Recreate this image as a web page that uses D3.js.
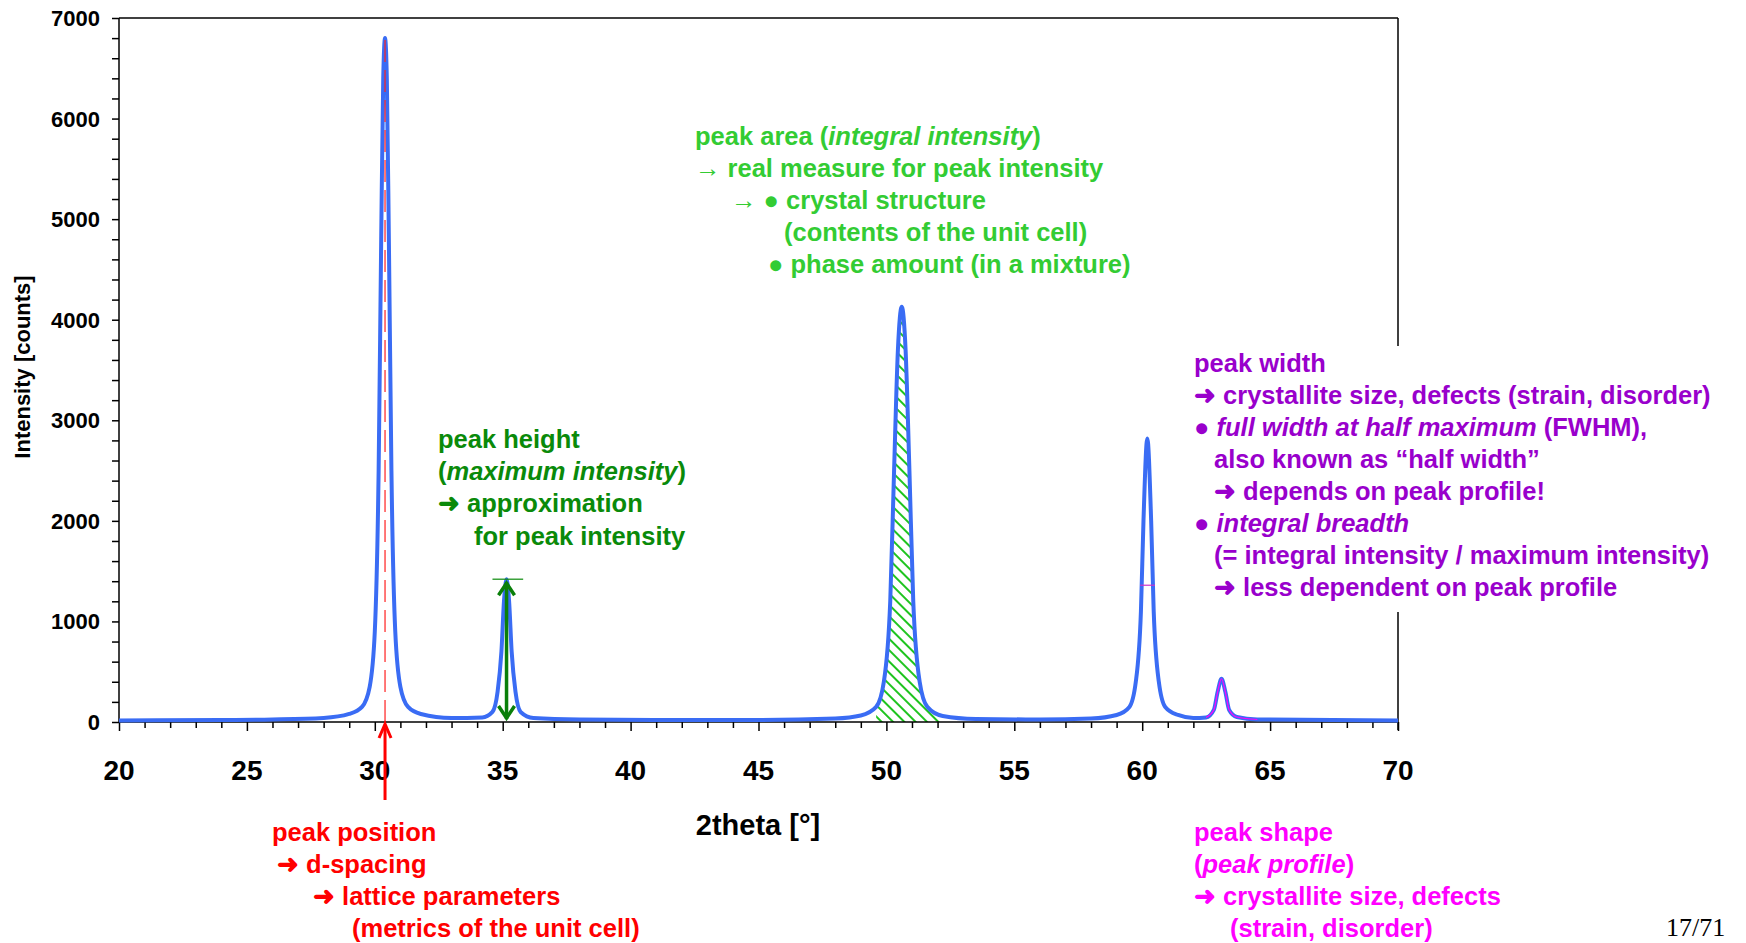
<!DOCTYPE html>
<html><head><meta charset="utf-8">
<script src="https://cdn.jsdelivr.net/npm/d3@7"></script>
<style>body{margin:0;background:#fff}svg{font-family:"Liberation Sans",Arial,sans-serif;font-weight:bold}</style>
</head><body><svg id="c" width="1746" height="943"></svg>
<script>
const twoTheta = [20,24,26,28,29,29.5,29.8,30.0,30.15,30.25,30.33,30.4,30.47,30.55,30.65,30.8,31.0,31.3,31.8,33,34.2,34.6,34.8,34.95,35.05,35.15,35.25,35.35,35.5,35.7,36.2,38,42,45,48,49,49.6,49.9,50.15,50.3,50.45,50.6,50.75,50.9,51.05,51.3,51.6,52.2,53.5,56,58,59,59.5,59.75,59.95,60.05,60.2,60.35,60.45,60.65,60.9,61.4,62,62.5,62.8,62.95,63.1,63.25,63.4,63.7,64.5,70];
const intensity = [15,20,25,40,80,150,350,900,2500,4800,6400,6800,6400,4800,2500,900,350,150,80,40,45,100,300,700,1200,1420,1200,700,300,100,40,25,20,20,35,65,150,400,1200,2500,3700,4130,3700,2500,1200,400,150,60,30,25,35,70,150,400,1100,2000,2820,2000,1100,400,150,70,40,45,120,300,430,300,120,50,25,15];
const xTicks = [20,25,30,35,40,45,50,55,60,65,70];
const yTicks = [0,1000,2000,3000,4000,5000,6000,7000];

const svg = d3.select("#c");
const x = d3.scaleLinear().domain([20,70]).range([119,1398]);
const y = d3.scaleLinear().domain([0,7000]).range([722,18]);
const pts = twoTheta.map((t,i)=>[t,intensity[i]]);

const defs = svg.append("defs");
const pat = defs.append("pattern").attr("id","hatch").attr("patternUnits","userSpaceOnUse")
  .attr("width",8).attr("height",8).attr("patternTransform","rotate(-45)");
pat.append("line").attr("x1",0).attr("y1",0).attr("x2",0).attr("y2",8).attr("stroke","#1fc41f").attr("stroke-width",4);

const areaPts = pts.filter(p=>p[0]>=49.6&&p[0]<=52.3);
svg.append("path").datum(areaPts).attr("fill","url(#hatch)")
  .attr("d",d3.area().x(d=>x(d[0])).y0(y(0)).y1(d=>y(d[1])).curve(d3.curveMonotoneX));

svg.append("line").attr("x1",119).attr("x2",1398).attr("y1",18).attr("y2",18).attr("stroke","#000").attr("stroke-width",1.5);
svg.append("line").attr("x1",1398).attr("x2",1398).attr("y1",18).attr("y2",730).attr("stroke","#000").attr("stroke-width",1.5);

const yAx = svg.append("g").attr("transform","translate(119,0)")
  .call(d3.axisLeft(y).tickValues(d3.range(0,7001,200)).tickSize(7).tickFormat(""));
yAx.selectAll("path,line").attr("stroke","#000").attr("stroke-width",1.5);
yAx.select(".domain").attr("d","M0,18V722");
svg.append("g").selectAll("text").data(yTicks).join("text")
  .attr("x",100).attr("y",d=>y(d)+8).attr("text-anchor","end").attr("font-size",22).text(d=>d);

const xAx = svg.append("g").attr("transform","translate(0,722)")
  .call(d3.axisBottom(x).tickValues(d3.range(20,70.1,1)).tickSize(6).tickFormat(""));
xAx.selectAll("path,line").attr("stroke","#000").attr("stroke-width",1.5);
xAx.select(".domain").attr("d","M119,0H1398");
xAx.selectAll(".tick line").filter(d=>d%5===0).attr("y2",9);
svg.append("g").selectAll("text").data(xTicks).join("text")
  .attr("x",d=>x(d)).attr("y",780).attr("text-anchor","middle").attr("font-size",28).text(d=>d);

svg.append("text").attr("x",758).attr("y",835).attr("text-anchor","middle").attr("font-size",29).text("2theta [°]");
svg.append("text").attr("transform","translate(30,367) rotate(-90)").attr("text-anchor","middle").attr("font-size",22).text("Intensity [counts]");

svg.append("path").datum(pts).attr("fill","none").attr("stroke","#3a6cf4").attr("stroke-width",4)
  .attr("stroke-linejoin","round")
  .attr("d",d3.line().x(d=>x(d[0])).y(d=>y(d[1])).curve(d3.curveMonotoneX));
svg.append("path").datum(pts.filter(p=>p[0]>=62.5&&p[0]<=64.5)).attr("fill","none").attr("stroke","#ff00ff").attr("stroke-width",1.2)
  .attr("d",d3.line().x(d=>x(d[0])).y(d=>y(d[1])).curve(d3.curveMonotoneX));

svg.append("line").attr("x1",x(30.4)).attr("x2",x(30.4)).attr("y1",y(0)).attr("y2",y(6800))
  .attr("stroke","#ff2020").attr("stroke-width",1.2).attr("stroke-dasharray","22,8");
svg.append("line").attr("x1",x(30.4)).attr("x2",x(30.4)).attr("y1",800).attr("y2",728).attr("stroke","#ff0000").attr("stroke-width",3);
svg.append("path").attr("d",`M${x(30.4)-6},738L${x(30.4)},724L${x(30.4)+6},738`).attr("fill","none").attr("stroke","#ff0000").attr("stroke-width",3);

const gx = x(35.15);
svg.append("line").attr("x1",x(34.6)).attr("x2",x(35.8)).attr("y1",y(1420)).attr("y2",y(1420)).attr("stroke","#0a8a0a").attr("stroke-width",1.2);
svg.append("line").attr("x1",gx).attr("x2",gx).attr("y1",y(1420)+3).attr("y2",y(0)-3).attr("stroke","#0a7f0a").attr("stroke-width",3.5);
svg.append("path").attr("d",`M${gx-8},${y(1420)+16}L${gx},${y(1420)+4}L${gx+8},${y(1420)+16}M${gx-8},${y(0)-16}L${gx},${y(0)-4}L${gx+8},${y(0)-16}`)
  .attr("fill","none").attr("stroke","#0a7f0a").attr("stroke-width",3.5);

svg.append("line").attr("x1",x(59.92)).attr("x2",x(60.5)).attr("y1",y(1360)).attr("y2",y(1360)).attr("stroke","#cc33cc").attr("stroke-width",1.2);

svg.append("rect").attr("x",1188).attr("y",346).attr("width",558).attr("height",266).attr("fill","#fff");

function block(x0, ys, lines, color, size){
  lines.forEach((ln,i)=>{
    const t = svg.append("text").attr("x",x0+(ln.dx||0)).attr("y",ys[i]).attr("fill",color).attr("font-size",size);
    ln.parts.forEach(p=>t.append("tspan").attr("font-style",p.i?"italic":"normal").text(p.t));
  });
}
const L = (dx,...parts)=>({dx,parts:parts.map(p=>typeof p==="string"?{t:p}:p)});
const I = t=>({t,i:true});

block(695,[145,177,209,241,273],[
  L(0,"peak area (",I("integral intensity"),")"),
  L(0,"→ real measure for peak intensity"),
  L(36,"→ ● crystal structure"),
  L(89,"(contents of the unit cell)"),
  L(73,"● phase amount (in a mixture)")],"#33cc33",25.5);

block(438,[448,480,512,545],[
  L(0,"peak height"),
  L(0,"(",I("maximum intensity"),")"),
  L(0,"➜ approximation"),
  L(36,"for peak intensity")],"#0a8a0a",25.5);

block(1194,[372,404,436,468,500,532,564,596],[
  L(0,"peak width"),
  L(0,"➜ crystallite size, defects (strain, disorder)"),
  L(0,"● ",I("full width at half maximum")," (FWHM),"),
  L(20,"also known as “half width”"),
  L(20,"➜ depends on peak profile!"),
  L(0,"● ",I("integral breadth")),
  L(20,"(= integral intensity / maximum intensity)"),
  L(20,"➜ less dependent on peak profile")],"#9900cc",25.5);

block(272,[841,873,905,937],[
  L(0,"peak position"),
  L(5,"➜ d-spacing"),
  L(41,"➜ lattice parameters"),
  L(80,"(metrics of the unit cell)")],"#ff0000",25.5);

block(1194,[841,873,905,937],[
  L(0,"peak shape"),
  L(0,"(",I("peak profile"),")"),
  L(0,"➜ crystallite size, defects"),
  L(36,"(strain, disorder)")],"#ff00ff",25.5);

svg.append("text").attr("x",1666).attr("y",936).attr("font-family","Liberation Serif").attr("font-weight","normal").attr("font-size",26).text("17/71");
</script></body></html>
